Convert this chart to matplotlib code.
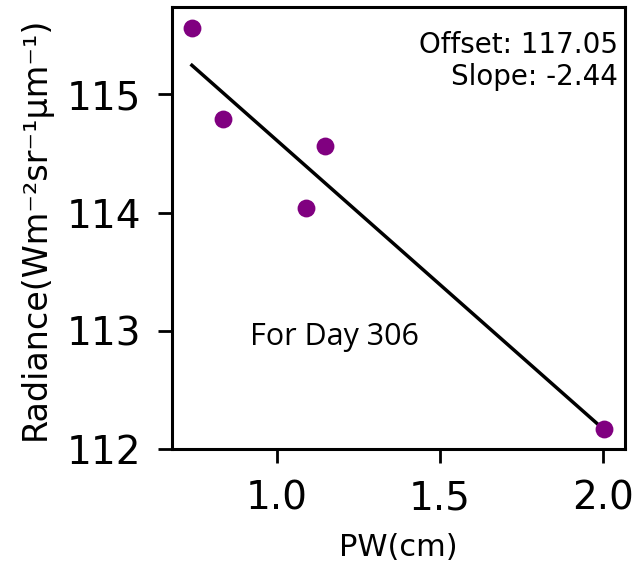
import matplotlib
matplotlib.use("Agg")
import matplotlib.pyplot as plt
import numpy as np

# precipitable water (cm) vs radiance for day 306
pw = [0.739, 0.834, 1.089, 1.147, 2.003]
radiance = [115.56, 114.79, 114.04, 114.56, 112.17]
offset = 117.05
slope = -2.44

fig = plt.figure(figsize=(6.41, 5.64), dpi=100)
ax = fig.add_axes([172 / 641, 1 - 449 / 564, (625 - 172) / 641, (449 - 7) / 564])

ax.scatter(pw, radiance, s=165, color="purple", linewidths=0, zorder=3)
xfit = np.array([min(pw), max(pw)])
ax.plot(xfit, offset + slope * xfit, color="black", lw=2.5)

ax.set_xlim(0.678, 2.067)
ax.set_ylim(112.0, 115.74)
ax.set_xticks([1.0, 1.5, 2.0])
ax.set_yticks([112, 113, 114, 115])
ax.tick_params(labelsize=28, length=10, width=2, pad=12)
for s in ax.spines.values():
    s.set_linewidth(2.2)

ax.set_xlabel("PW(cm)", fontsize=22, labelpad=11)
ax.set_ylabel("Radiance(Wm⁻²sr⁻¹µm⁻¹)", fontsize=24, labelpad=11)

ax.text(0.985, 0.945, "Offset: {:.2f}\nSlope: {:.2f}".format(offset, slope),
        transform=ax.transAxes, ha="right", va="top", fontsize=20, linespacing=1.15)
ax.text(0.172, 0.254, "For Day 306", transform=ax.transAxes, ha="left", va="center",
        fontsize=22, family="Open Sans")

fig.savefig("out.png", dpi=100)
